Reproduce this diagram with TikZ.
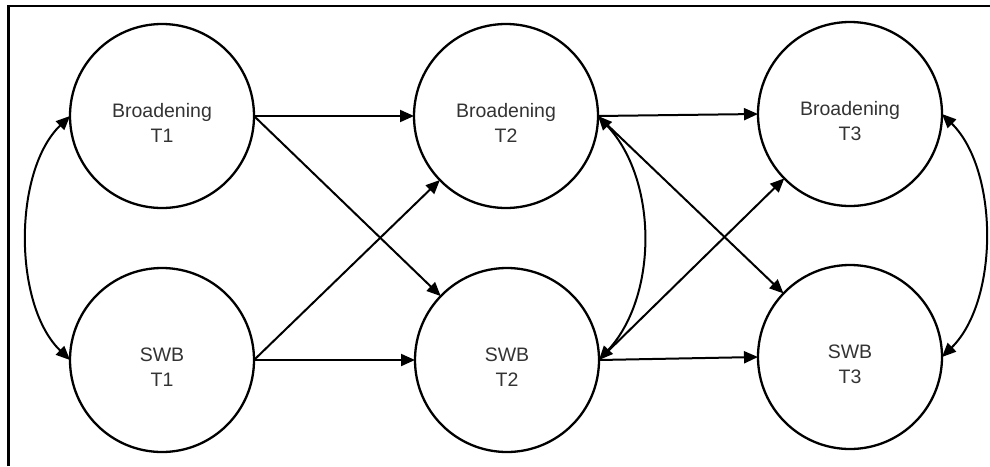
\documentclass[tikz,border=0pt]{standalone}
\usepackage{fontspec}
\setmainfont{Liberation Sans}
\usetikzlibrary{arrows.meta}
\begin{document}
\begin{tikzpicture}[x=1pt,y=-1pt,
  state/.style={circle,draw,line width=2.3pt,minimum size=184pt,inner sep=0pt,outer sep=0pt,
    align=center,font=\fontsize{19.5}{25}\selectfont,text=black!80,text height=52pt,text depth=0pt},
  link/.style={line width=2pt,-{Triangle[length=14pt,width=12pt]}},
  blink/.style={line width=2pt,{Triangle[length=14pt,width=12pt]}-{Triangle[length=14pt,width=12pt]}},
  frame/.style={line width=2.8pt}]
\useasboundingbox (0,0) rectangle (990,466);
\draw[frame] (8.7,466) -- (8.7,6) -- (990,6);

\node[state] (B1) at (162,116) {Broadening\\T1};
\node[state] (S1) at (162,360) {SWB\\T1};
\node[state] (B2) at (506,116) {Broadening\\T2};
\node[state] (S2) at (507,360) {SWB\\T2};
\node[state] (B3) at (850,114) {Broadening\\T3};
\node[state] (S3) at (850,357) {SWB\\T3};

\draw[link] (B1.east) -- (B2.west);
\draw[link] (B1.east) -- (S2);
\draw[link] (S1.east) -- (B2);
\draw[link] (S1.east) -- (S2.west);

\draw[link] (B2.east) -- (B3.west);
\draw[link] (B2.east) -- (S3);
\draw[link] (S2.east) -- (B3);
\draw[link] (S2.east) -- (S3.west);

\draw[blink] (B1.west) .. controls (13,171) and (13,305) .. (S1.west);
\draw[blink] (B2.east) .. controls (658,180) and (658,296) .. (S2.east);
\draw[blink] (B3.east) .. controls (999,170) and (999,301) .. (S3.east);
\end{tikzpicture}
\end{document}
